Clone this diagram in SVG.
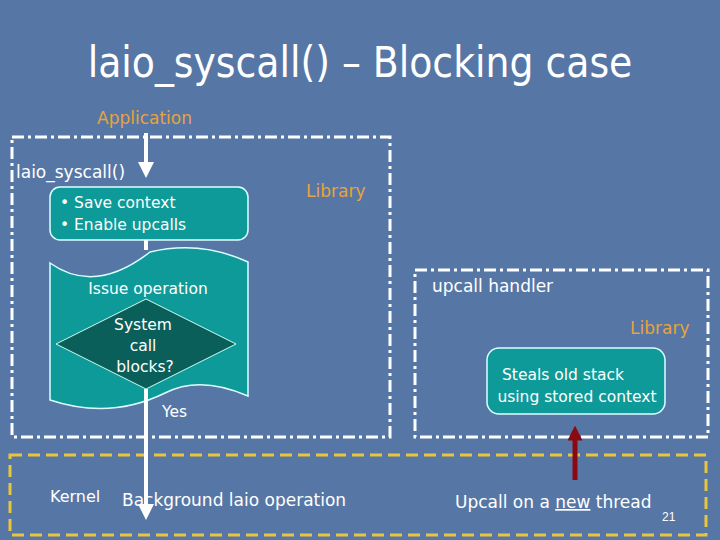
<svg xmlns="http://www.w3.org/2000/svg" width="720" height="540" viewBox="0 0 720 540">
<defs>
<style>
text{font-family:Verdana,"DejaVu Sans",sans-serif;fill:#fff}
.lib{fill:#e8a33a}
.dd{fill:none;stroke:#fff;stroke-width:3;stroke-dasharray:12,4,3,4}
.teal{fill:#0e9a98;stroke:#dff;stroke-width:1.5}
</style>
<marker id="wa" markerWidth="4" markerHeight="4" refX="2" refY="2" orient="auto" markerUnits="strokeWidth"><path d="M0,0L4,2L0,4Z" fill="#fff"/></marker>
<marker id="ra" markerWidth="3" markerHeight="3" refX="1.5" refY="1.5" orient="auto" markerUnits="strokeWidth"><path d="M0,0L3,1.5L0,3Z" fill="#8b0a12"/></marker>
</defs>
<rect width="720" height="540" fill="#5677a6"/>
<text x="360" y="77" text-anchor="middle" font-size="42" style="font-family:'DejaVu Sans Condensed','DejaVu Sans',sans-serif">laio_syscall() – Blocking case</text>
<text class="lib" x="97" y="124" font-size="17">Application</text>
<g id="boxes">
<rect class="dd" x="12" y="137" width="378" height="300"/>
<rect class="dd" x="415" y="270" width="293" height="167"/>
<rect x="10" y="455" width="696" height="80" fill="none" stroke="#e8c53a" stroke-width="3" stroke-dasharray="12,6"/>
</g>
<text x="16" y="178" font-size="17">laio_syscall()</text>
<text class="lib" x="306" y="197" font-size="17">Library</text>
<text x="432" y="292" font-size="17">upcall handler</text>
<text class="lib" x="630" y="334" font-size="17">Library</text>
<text x="50" y="502" font-size="16">Kernel</text>
<g id="save"><rect class="teal" x="50" y="187" width="198" height="53" rx="10"/>
<text x="60" y="208" font-size="15.5">• Save context</text><text x="60" y="230" font-size="15.5">• Enable upcalls</text></g>
<g id="issue"><path class="teal" d="M50,263 Q95,295 150,252 Q200,240 248,262 L248,396 Q200,375 165,393 Q110,420 50,400 Z" stroke="#fff" stroke-width="3"/>
<text x="148" y="294" text-anchor="middle" font-size="15.5">Issue operation</text></g>
<g id="diamond"><path d="M146,299 L236,344 L146,389 L56,344 Z" fill="#0b5f5a" stroke="#cfe" stroke-width="1"/>
<text x="143" y="330" text-anchor="middle" font-size="15.5">System</text>
<text x="143" y="351" text-anchor="middle" font-size="15.5">call</text>
<text x="145" y="372" text-anchor="middle" font-size="15.5">blocks?</text></g>
<text x="162" y="417" font-size="15.5">Yes</text>
<g id="steal"><rect class="teal" x="487" y="348" width="178" height="66" rx="12"/>
<text x="563" y="380" text-anchor="middle" font-size="15.5">Steals old stack</text>
<text x="577" y="402" text-anchor="middle" font-size="15.5">using stored context</text></g>
<g id="connectors">
<line x1="146" y1="133" x2="146" y2="170" stroke="#fff" stroke-width="4" marker-end="url(#wa)"/>
<line x1="146" y1="240" x2="146" y2="250" stroke="#fff" stroke-width="4"/>
<line x1="146" y1="389" x2="146" y2="512" stroke="#fff" stroke-width="4" marker-end="url(#wa)"/>
<line x1="575" y1="480" x2="575" y2="433" stroke="#8b0a12" stroke-width="5" marker-end="url(#ra)"/>
</g>
<text x="122" y="506" font-size="17">Background laio operation</text>
<text x="455" y="508" font-size="17">Upcall on a <tspan text-decoration="underline">new</tspan> thread</text>
<text x="662" y="521" font-size="12" style="font-family:'Liberation Sans',sans-serif">21</text>
</svg>
